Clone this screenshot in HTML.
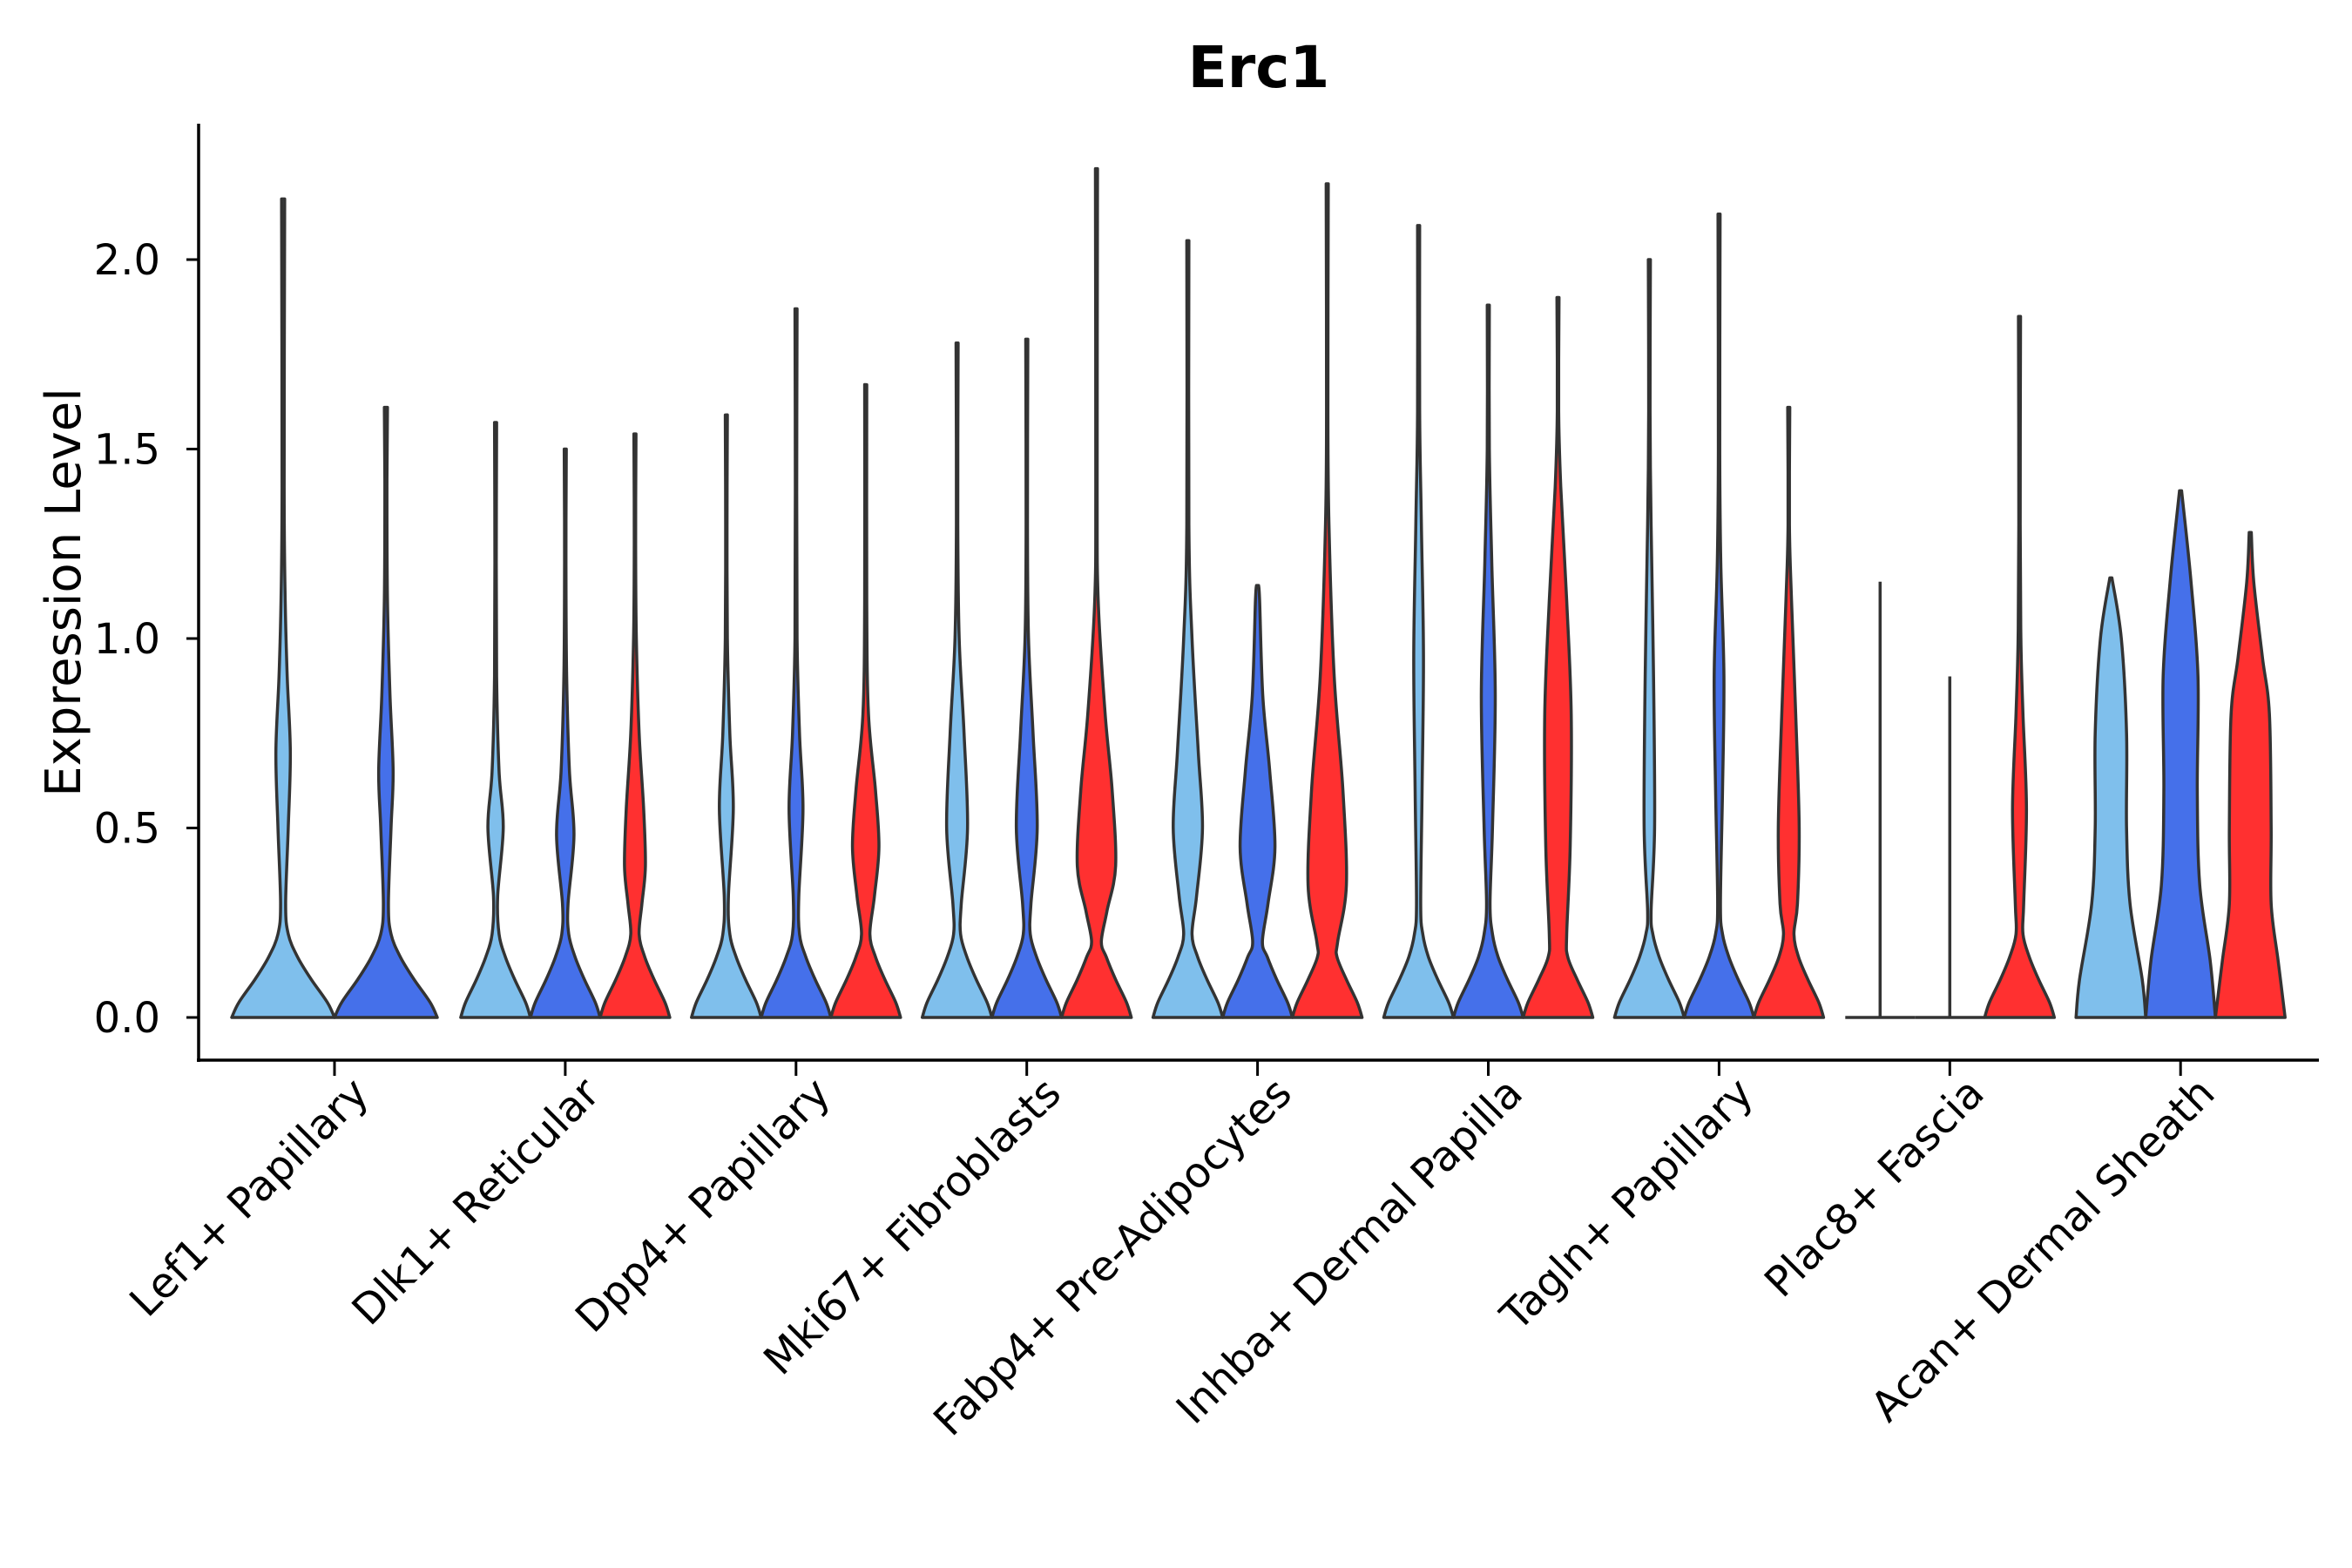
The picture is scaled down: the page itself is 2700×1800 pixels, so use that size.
<!DOCTYPE html>
<html><head><meta charset="utf-8"><style>
html,body{margin:0;padding:0;background:#fff;}
svg{display:block;font-family:"DejaVu Sans","Liberation Sans",sans-serif;}
</style></head><body>
<svg id="chart" width="2700" height="1800" viewBox="0 0 2700 1800" xmlns="http://www.w3.org/2000/svg">
<rect width="2700" height="1800" fill="#fff"/>
<text x="1445" y="100" text-anchor="middle" font-size="66" font-weight="bold" fill="#000">Erc1</text>
<text transform="translate(92,680) rotate(-90)" text-anchor="middle" font-size="56" fill="#000">Expression Level</text>
<g id="axes"></g>
<g id="marks"></g>
</svg>
<script>
const categories = ["Lef1+ Papillary","Dlk1+ Reticular","Dpp4+ Papillary","Mki67+ Fibroblasts","Fabp4+ Pre-Adipocytes","Inhba+ Dermal Papilla","Tagln+ Papillary","Plac8+ Fascia","Acan+ Dermal Sheath"];
const yTicks = [0, 0.5, 1.0, 1.5, 2.0];
const yTickLabels = ["0.0","0.5","1.0","1.5","2.0"];
const seriesColors = ["#7fbfec","#4570ea","#ff3030"];
// violin maxima per group (null = absent)
const maxLight = [2.16,1.57,1.59,1.78,2.05,2.09,2.00,1.15,1.16];
const maxBlue  = [1.61,1.50,1.87,1.79,1.14,1.88,2.12,0.90,1.39];
const maxRed   = [null,1.54,1.67,2.24,2.20,1.90,1.61,1.85,1.28];
// density knots [expression, relative half-width]
const baseKnots = [[0,1],[0.04,0.86],[0.1,0.55],[0.16,0.28]];
const densLight = [
 [[0.22,0.1],[0.3,0.05],[0.5,0.1],[0.7,0.14],[0.9,0.08],[1.1,0.04],[1.4,0.02]],
 [[0.22,0.1],[0.32,0.06],[0.5,0.22],[0.65,0.1],[0.9,0.03],[1.2,0.02]],
 [[0.22,0.1],[0.32,0.06],[0.55,0.2],[0.75,0.1],[1.0,0.03],[1.3,0.02]],
 [[0.22,0.1],[0.3,0.12],[0.5,0.3],[0.75,0.2],[1.0,0.06],[1.3,0.02]],
 [[0.22,0.12],[0.32,0.25],[0.5,0.42],[0.7,0.3],[1.0,0.12],[1.3,0.03]],
 [[0.22,0.12],[0.3,0.06],[0.6,0.1],[0.95,0.14],[1.3,0.08],[1.6,0.03]],
 [[0.22,0.1],[0.28,0.05],[0.5,0.15],[0.9,0.12],[1.3,0.05],[1.6,0.02]],
 "flat",
 [[0.1,0.9],[0.3,0.55],[0.5,0.45],[0.75,0.45],[1.0,0.3],[1.16,0.08]]
];
const densBlue = [
 [[0.22,0.1],[0.3,0.05],[0.5,0.1],[0.65,0.14],[0.85,0.08],[1.1,0.03],[1.4,0.02]],
 [[0.22,0.1],[0.3,0.08],[0.48,0.25],[0.65,0.12],[0.9,0.04],[1.2,0.02]],
 [[0.22,0.1],[0.32,0.08],[0.55,0.2],[0.75,0.1],[1.0,0.03],[1.4,0.02]],
 [[0.22,0.1],[0.3,0.12],[0.5,0.3],[0.75,0.18],[1.0,0.05],[1.3,0.02]],
 [[0.2,0.14],[0.3,0.3],[0.45,0.5],[0.65,0.35],[0.85,0.15],[1.1,0.06]],
 [[0.22,0.12],[0.3,0.05],[0.5,0.12],[0.85,0.2],[1.2,0.1],[1.5,0.03]],
 [[0.22,0.1],[0.3,0.04],[0.6,0.1],[0.9,0.14],[1.2,0.05],[1.5,0.02]],
 "flat",
 [[0.15,0.85],[0.35,0.55],[0.6,0.48],[0.9,0.5],[1.15,0.3],[1.39,0.13]]
];
const densRed = [
 null,
 [[0.22,0.12],[0.3,0.2],[0.4,0.3],[0.55,0.25],[0.75,0.12],[1.0,0.04],[1.25,0.02]],
 [[0.22,0.12],[0.32,0.25],[0.45,0.38],[0.6,0.28],[0.8,0.08],[1.1,0.03]],
 [[0.2,0.14],[0.28,0.3],[0.4,0.55],[0.6,0.45],[0.8,0.25],[1.1,0.05],[1.4,0.02]],
 [[0.2,0.3],[0.35,0.55],[0.6,0.45],[0.9,0.2],[1.3,0.05],[1.6,0.02]],
 [[0.22,0.25],[0.45,0.35],[0.8,0.38],[1.1,0.25],[1.4,0.08],[1.6,0.02]],
 [[0.22,0.15],[0.3,0.25],[0.5,0.3],[0.8,0.2],[1.1,0.08],[1.3,0.02]],
 [[0.22,0.1],[0.3,0.12],[0.55,0.2],[0.8,0.1],[1.0,0.04],[1.3,0.02]],
 [[0.15,0.8],[0.3,0.6],[0.5,0.6],[0.8,0.55],[0.95,0.35],[1.15,0.1],[1.28,0.1]]
];

const NS="http://www.w3.org/2000/svg";
const X0=384, DX=264.9, Y0=1168, PU=435;
const xScale = i => X0 + i*DX;
const yScale = v => Y0 - v*PU;
const axes=document.getElementById('axes'), marks=document.getElementById('marks');
function mk(tag,attrs,parent){const e=document.createElementNS(NS,tag);for(const k in attrs)e.setAttribute(k,attrs[k]);parent.appendChild(e);return e;}

let yl=mk('line',{x1:228,y1:142,x2:228,y2:1219,stroke:'#000','stroke-width':3.5},axes);


let xl=mk('line',{x1:226,y1:1217,x2:2662,y2:1217,stroke:'#000','stroke-width':3.5},axes);


yTicks.forEach((t,i)=>{
  const y=yScale(t);
  const tk=mk('line',{x1:214,y1:y,x2:228,y2:y,stroke:'#000','stroke-width':3},axes);
  
  
  const tl=mk('text',{x:184,y:y+17,'text-anchor':'end','font-size':48,fill:'#000'},axes);
  tl.textContent=yTickLabels[i];
  
  
});
categories.forEach((c,i)=>{
  const x=xScale(i);
  const tk=mk('line',{x1:x,y1:1217,x2:x,y2:1235,stroke:'#000','stroke-width':3},axes);
  
  
  const ax=x+18, ay=1234;
  const tl=mk('text',{x:ax,y:ay,'text-anchor':'end','font-size':48,fill:'#000',transform:`rotate(-45 ${ax} ${ay})`,dy:'0.7em'},axes);
  tl.textContent=c;
  
  
});

function sidePts(knots,cx,hw,sign){return knots.map(k=>[cx+sign*k[1]*hw, yScale(k[0])]);}
function crPath(pts){
  let d='';
  for(let i=0;i<pts.length-1;i++){
    const p0=pts[Math.max(0,i-1)],p1=pts[i],p2=pts[i+1],p3=pts[Math.min(pts.length-1,i+2)];
    const c1=[p1[0]+(p2[0]-p0[0])/6,p1[1]+(p2[1]-p0[1])/6];
    const c2=[p2[0]-(p3[0]-p1[0])/6,p2[1]-(p3[1]-p1[1])/6];
    d+=` C${c1[0].toFixed(1)},${c1[1].toFixed(1)} ${c2[0].toFixed(1)},${c2[1].toFixed(1)} ${p2[0].toFixed(1)},${p2[1].toFixed(1)}`;
  }
  return d;
}
const allMax=[maxLight,maxBlue,maxRed], allDens=[densLight,densBlue,densRed];
categories.forEach((c,g)=>{
  const present=[0,1,2].filter(s=>allMax[s][g]!=null);
  const n=present.length;
  const w = n===2?118:80;
  present.forEach((s,j)=>{
    const cx = xScale(g) + (j-(n-1)/2)*w;
    const hw = w/2;
    const mx = allMax[s][g];
    const dens = allDens[s][g];
    let d, fill;
    if(dens==="flat"){
      d=`M${cx-hw},${Y0} L${cx+hw},${Y0} M${cx},${Y0} L${cx},${yScale(mx)}`;
      fill='none';
    } else {
      const base = dens[0][0] < 0.16 ? [baseKnots[0]] : baseKnots;
      const knots = base.concat(dens.filter(k=>k[0]<mx)).concat([[mx,0.03]]);
      const R=sidePts(knots,cx,hw,1), L=sidePts(knots,cx,hw,-1).reverse();
      d=`M${R[0][0]},${R[0][1]}`+crPath(R)+` L${L[0][0]},${L[0][1]}`+crPath(L)+' Z';
      fill=seriesColors[s];
    }
    const p=mk('path',{d:d,fill:fill,stroke:'#333','stroke-width':3.5,'stroke-linejoin':'round'},marks);
    
    
  });
});
</script>
</body></html>
